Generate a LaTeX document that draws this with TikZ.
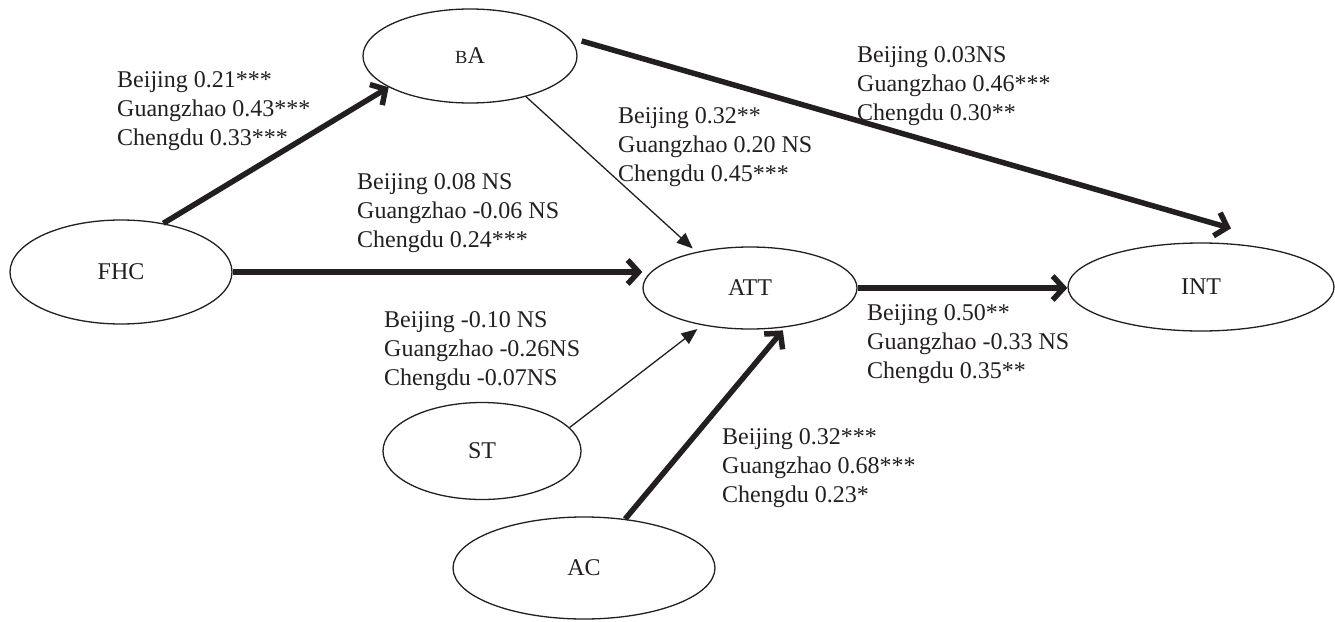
\documentclass[tikz,border=0pt]{standalone}
\usepackage{fontspec}
\setmainfont{Liberation Serif}
\usetikzlibrary{arrows.meta,shapes.geometric}
\definecolor{ink}{HTML}{231F20}
\begin{document}
\begin{tikzpicture}[x=1pt,y=-1pt,
  lat/.style={ellipse,draw=ink,line width=1.3pt,inner sep=0pt,text=ink,font=\fontsize{24}{29}\selectfont},
  lbl/.style={anchor=base west,align=left,inner sep=0pt,text=ink,font=\fontsize{24}{29}\selectfont},
  bold arrow/.style={draw=ink,line width=5.5pt,-{Straight Barb[length=11pt,width=24pt]}},
  fine arrow/.style={draw=ink,line width=1.3pt,-{Triangle[length=16pt,width=13pt]}}]
\useasboundingbox (0,0) rectangle (1335,621);
% latent variables
\node[lat,minimum width=214pt,minimum height=94pt] (ba) at (470,56) {{\fontsize{18.5}{20}\selectfont B}A};
\node[lat,minimum width=222pt,minimum height=104pt] (fhc) at (121,272) {FHC};
\node[lat,minimum width=214pt,minimum height=82pt] (att) at (750,288) {ATT};
\node[lat,minimum width=266pt,minimum height=88pt] (int) at (1201,287) {INT};
\node[lat,minimum width=198pt,minimum height=97pt] (st) at (482,451) {ST};
\node[lat,minimum width=262pt,minimum height=102pt] (ac) at (584,568) {AC};
% paths
\draw[bold arrow] (fhc.49) -- (ba.201);
\draw[bold arrow] ([xshift=4pt,yshift=15pt]ba.east) -- ([xshift=30pt,yshift=14pt]int.north);
\draw[fine arrow,shorten >=5pt] (ba.-36) -- (att.146);
\draw[bold arrow] (fhc.east) -- (fhc.east -| att.west);
\draw[bold arrow] (att.east) -- (att.east -| int.west);
\draw[fine arrow,shorten >=6pt] (st.15) -- (att.218);
\draw[bold arrow,shorten >=4pt] (ac.50) -- (att.312);
% coefficients (anchored at the baseline of the last line)
\node[lbl] (l1) at (117,145) {Beijing 0.21***\\Guangzhao 0.43***\\Chengdu 0.33***};
\node[lbl] (l2) at (357,247) {Beijing 0.08 NS\\Guangzhao -0.06 NS\\Chengdu 0.24***};
\node[lbl] (l3) at (618,181) {Beijing 0.32**\\Guangzhao 0.20 NS\\Chengdu 0.45***};
\node[lbl] (l4) at (857,120) {Beijing 0.03NS\\Guangzhao 0.46***\\Chengdu 0.30**};
\node[lbl] (l5) at (867,378) {Beijing 0.50**\\Guangzhao -0.33 NS\\Chengdu 0.35**};
\node[lbl] (l6) at (384,385) {Beijing -0.10 NS\\Guangzhao -0.26NS\\Chengdu -0.07NS};
\node[lbl] (l7) at (722,502) {Beijing 0.32***\\Guangzhao 0.68***\\Chengdu 0.23*};
\end{tikzpicture}
\end{document}
